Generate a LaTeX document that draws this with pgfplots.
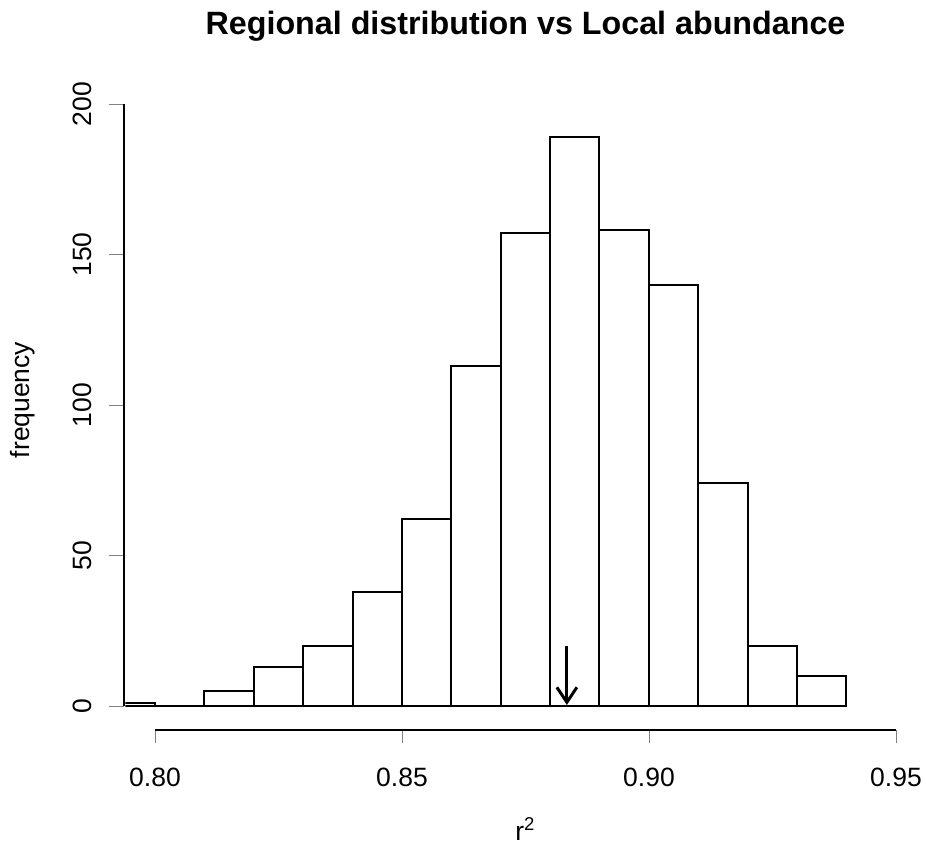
\documentclass[border=0pt]{standalone}
\usepackage{fontspec}
\setmainfont{Liberation Sans}
\usepackage{pgfplots}
\usepackage{pgfplotstable}
\pgfplotsset{compat=1.18}
\usetikzlibrary{arrows.meta}

% histogram counts, bins of width 0.01 (left edge, count)
\pgfplotstableread{
left count
0.79 1
0.80 0
0.81 5
0.82 13
0.83 20
0.84 38
0.85 62
0.86 113
0.87 157
0.88 189
0.89 158
0.90 140
0.91 74
0.92 20
0.93 10
0.94 0
}\histdata

\begin{document}
\fontsize{10.6}{12.7}\selectfont
\begin{tikzpicture}[x=1pt,y=1pt]
\useasboundingbox (0,0) rectangle (370.4,338);
\pgfplotsset{every axis/.append style={scale only axis,
    font=\fontsize{10.6}{12.7}\selectfont,
    /pgf/number format/assume math mode=true,
    line width=0.8pt}}

% bars
\begin{axis}[at={(50.16pt,46pt)}, anchor=south west,
    width=320pt, height=260pt,
    xmin=0.794, xmax=0.956, ymin=-8, ymax=208,
    axis lines=none]
\addplot[ybar interval, fill=white, draw=black, line width=0.8pt]
    table[x=left, y=count] {\histdata};
\draw[line width=1.2pt, -{Straight Barb[length=6pt,width=8pt]}]
    (axis cs:0.8834,20) -- (axis cs:0.8834,0.3);
\end{axis}

% x axis, R style (detached)
\begin{axis}[at={(62pt,46pt)}, anchor=south west,
    width=296.4pt, height=10pt,
    xmin=0.80, xmax=0.95, ymin=0, ymax=1,
    axis x line=bottom, hide y axis, axis line style={-},
    xtick={0.80,0.85,0.90,0.95},
    tick align=outside, major tick length=5.2pt,
    xticklabel style={/pgf/number format/fixed, /pgf/number format/fixed zerofill,
        /pgf/number format/precision=2, inner sep=0pt, anchor=north},
    xticklabel shift=9.6pt]
\end{axis}

% y axis
\begin{axis}[at={(49.6pt,55.6pt)}, anchor=south west,
    width=10pt, height=240.8pt,
    xmin=0, xmax=1, ymin=0, ymax=200,
    axis y line=left, hide x axis, axis line style={-},
    ytick={0,50,100,150,200},
    tick align=outside, major tick length=6pt,
    yticklabel style={rotate=90, anchor=south, inner sep=0pt},
    yticklabel shift=6.6pt]
\end{axis}

\node[rotate=90] at (9.2,178) {frequency};
\node[anchor=base] at (210.2,1.8) {r\textsuperscript{2}};
\node[anchor=base, font=\fontsize{12.9}{15}\selectfont\bfseries] at (210.2,324)
    {Regional distribution vs Local abundance};
\end{tikzpicture}
\end{document}
